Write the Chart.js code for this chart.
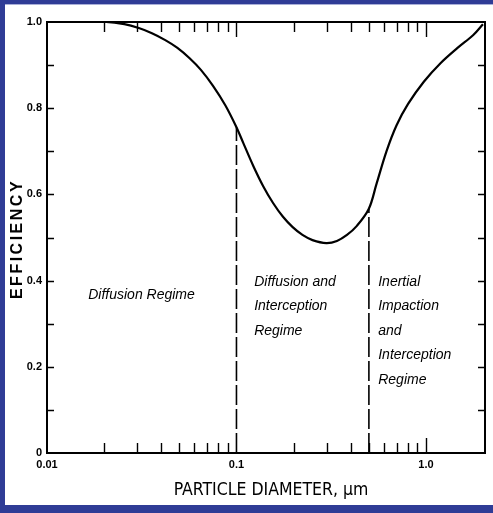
<!DOCTYPE html>
<html>
<head>
<meta charset="utf-8">
<script src="https://cdn.jsdelivr.net/npm/chart.js@4"></script>
<style>
  html, body { margin: 0; padding: 0; background: #fff; }
  canvas { display: block; }
</style>
</head>
<body>
<canvas id="c" width="493" height="513"></canvas>
<script>
// ---- data ----
const diameter = [0.01, 0.0205, 0.0256, 0.0305, 0.0358, 0.0421, 0.0488, 0.0566, 0.0649, 0.0752, 0.0873, 0.1,
  0.1087, 0.1227, 0.1384, 0.156, 0.176, 0.198, 0.223, 0.252, 0.298, 0.339, 0.383, 0.432,
  0.499, 0.549, 0.619, 0.699, 0.805, 0.977, 1.197, 1.468, 1.778, 2.0];
const efficiency = [1.0, 1.0, 0.995, 0.986, 0.974, 0.958, 0.940, 0.916, 0.889, 0.852, 0.807, 0.756,
  0.719, 0.666, 0.619, 0.580, 0.548, 0.524, 0.506, 0.494, 0.487, 0.492, 0.506, 0.527,
  0.566, 0.625, 0.700, 0.760, 0.810, 0.862, 0.905, 0.940, 0.970, 0.995];
const boundaryDiameters = [0.1, 0.5];
const boundaryEfficiency = [0.756, 0.568];
const xTickValues = [0.01, 0.1, 1.0];
const xTickLabels = ['0.01', '0.1', '1.0'];
const yTickValues = [0, 0.2, 0.4, 0.6, 0.8, 1.0];
const yTickLabels = ['0', '0.2', '0.4', '0.6', '0.8', '1.0'];
const regimeLabels = [
  ['Diffusion Regime'],
  ['Diffusion and', 'Interception', 'Regime'],
  ['Inertial', 'Impaction', 'and', 'Interception', 'Regime']
];
const xTitle = 'PARTICLE DIAMETER, \u03bcm';
const yTitle = 'EFFICIENCY';

// ---- presentation ----
const minorX = [0.02,0.03,0.04,0.05,0.06,0.07,0.08,0.09,0.2,0.3,0.4,0.5,0.6,0.7,0.8,0.9,1.0];
const minorY = [0.1,0.2,0.3,0.4,0.5,0.6,0.7,0.8,0.9];
const regimeAnchors = [ {x: 0.0165, y: 0.366}, {x: 0.124, y: 0.397}, {x: 0.56, y: 0.397} ];
const BLUE = '#2f3c96';
const narrow = "'Liberation Sans Narrow', 'DejaVu Sans Condensed', 'Liberation Sans', sans-serif";

const curve = diameter.map((d, i) => ({x: d, y: efficiency[i]}));
const boundarySets = boundaryDiameters.map((d, i) => ({
  data: [{x: d, y: 0}, {x: d, y: boundaryEfficiency[i]}],
  borderColor: '#000', borderWidth: 1.6, borderDash: [20, 4],
  pointRadius: 0, fill: false, tension: 0
}));

const decor = {
  id: 'decor',
  beforeDraw(chart) {
    const ctx = chart.ctx, W = chart.width, H = chart.height;
    ctx.save();
    ctx.fillStyle = '#fff';
    ctx.fillRect(0, 0, W, H);
    ctx.fillStyle = BLUE;
    ctx.fillRect(0, 0, W, 4);
    ctx.fillRect(0, 0, 5, H);
    ctx.fillRect(0, 505, W, H - 505);
    ctx.fillStyle = '#a9afd8';
    ctx.fillRect(5, 4, W - 5, 1);
    ctx.restore();
  },
  afterDatasetsDraw(chart) {
    const ctx = chart.ctx, a = chart.chartArea;
    const xs = chart.scales.x, ys = chart.scales.y;
    ctx.save();
    ctx.strokeStyle = '#000';
    ctx.lineWidth = 2;
    ctx.strokeRect(a.left, a.top, a.right - a.left, a.bottom - a.top);
    ctx.lineWidth = 1.4;
    ctx.beginPath();
    minorX.forEach(v => {
      const px = Math.round(xs.getPixelForValue(v)) + 0.5;
      const len = (v === 1.0) ? 15 : 10;
      ctx.moveTo(px, a.bottom); ctx.lineTo(px, a.bottom - len);
      ctx.moveTo(px, a.top); ctx.lineTo(px, a.top + len);
    });
    const p01 = Math.round(xs.getPixelForValue(0.1)) + 0.5;
    ctx.moveTo(p01, a.top); ctx.lineTo(p01, a.top + 15);
    minorY.forEach(v => {
      const py = Math.round(ys.getPixelForValue(v)) + 0.5;
      ctx.moveTo(a.left, py); ctx.lineTo(a.left + 7, py);
      ctx.moveTo(a.right, py); ctx.lineTo(a.right - 7, py);
    });
    ctx.stroke();

    // regime annotations
    ctx.fillStyle = '#000';
    ctx.font = "italic 14px 'Liberation Sans', Arial, sans-serif";
    ctx.textAlign = 'left';
    ctx.textBaseline = 'middle';
    regimeLabels.forEach((lines, i) => {
      const x0 = xs.getPixelForValue(regimeAnchors[i].x);
      const y0 = ys.getPixelForValue(regimeAnchors[i].y);
      lines.forEach((t, j) => ctx.fillText(t, x0, y0 + j * 24.5));
    });

    // axis titles
    ctx.font = "17.5px " + narrow;
    ctx.textAlign = 'center';
    ctx.fillText(xTitle, (a.left + a.right) / 2 + 5, 490);
    ctx.translate(18, 239);
    ctx.rotate(-Math.PI / 2);
    ctx.font = "bold 16px 'Liberation Sans', Arial, sans-serif";
    ctx.letterSpacing = '2.5px';
    ctx.fillText(yTitle, 0, 0);
    ctx.restore();
  }
};

new Chart(document.getElementById('c'), {
  type: 'line',
  data: {
    datasets: [{
      data: curve,
      borderColor: '#000', borderWidth: 2.2,
      pointRadius: 0, fill: false,
      tension: 0.35
    }, ...boundarySets]
  },
  options: {
    responsive: false,
    animation: false,
    devicePixelRatio: 1,
    layout: { padding: { top: 22, right: 8, left: 0, bottom: 0 } },
    plugins: { legend: { display: false }, tooltip: { enabled: false } },
    scales: {
      x: {
        type: 'logarithmic', min: 0.01, max: 2.05,
        grid: { display: false, drawTicks: false },
        border: { display: false },
        ticks: {
          color: '#000', padding: 5, autoSkip: false, maxRotation: 0,
          font: { family: "'Liberation Sans', Arial, sans-serif", size: 11, weight: 'bold' },
          callback: (v) => { const i = xTickValues.indexOf(v); return i >= 0 ? xTickLabels[i] : ''; }
        },
        afterBuildTicks: (s) => { s.ticks = xTickValues.map(v => ({value: v})); },
        afterFit: (s) => { s.height = 60; }
      },
      y: {
        type: 'linear', min: 0, max: 1,
        grid: { display: false, drawTicks: false },
        border: { display: false },
        ticks: {
          color: '#000', padding: 5,
          font: { family: "'Liberation Sans', Arial, sans-serif", size: 11, weight: 'bold' },
          callback: (v) => { const i = yTickValues.findIndex(t => Math.abs(t - v) < 1e-9); return i >= 0 ? yTickLabels[i] : ''; }
        },
        afterBuildTicks: (s) => { s.ticks = yTickValues.map(v => ({value: v})); },
        afterFit: (s) => { s.width = 47; }
      }
    }
  },
  plugins: [decor]
});
</script>
</body>
</html>
